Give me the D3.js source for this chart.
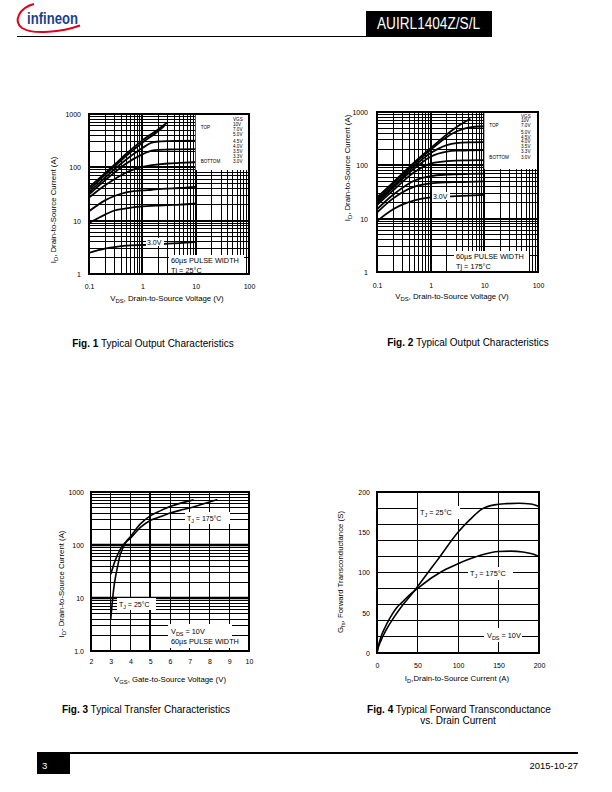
<!DOCTYPE html>
<html><head><meta charset="utf-8">
<script src="https://cdnjs.cloudflare.com/ajax/libs/d3/7.8.5/d3.min.js"></script>
<style>body{margin:0;background:#fff}svg{display:block}</style>
</head><body>
<svg id="page" width="612" height="792"></svg>
<script>
// ---------------- DATA ----------------
// Fig.1  Typical Output Characteristics, Tj = 25°C
const fig1Vgs = ["10V","7.0V","5.0V","4.5V","4.0V","3.5V","3.3V","3.0V"];
const fig1Vds10 = [0.1,0.2,0.3,0.5,1,2,3];
const fig1Id10V = [42,78,112,180,320,520,700];
const fig1Vds7 = [0.1,0.2,0.3,0.5,1,2,2.6];
const fig1Id7V = [38,72,104,165,290,480,600];
const fig1VdsSat = [0.1,0.2,0.3,0.5,1,1.5,2,3,5,10];
const fig1Id5V  = [34,64,92,140,230,290,305,310,312,315];
const fig1Id45V = [31,57,80,118,175,205,213,216,218,220];
const fig1Id4V  = [27,46,60,80,102,110,114,118,121,125];
const fig1Id35V = [15,24,29,34,37,38,39,40,41,43];
const fig1Id33V = [9,13,15.5,17,18.5,19,19.2,19.6,20,21];
const fig1Id3V  = [2.5,3.0,3.2,3.4,3.5,3.55,3.6,3.7,3.8,4.0];

// Fig.2  Typical Output Characteristics, Tj = 175°C
const fig2Vds10 = [0.1,0.2,0.5,1,2,3,5.5];
const fig2Id10V = [25,48,115,210,380,520,750];
const fig2VdsSat = [0.1,0.2,0.5,1,2,3,5,10];
const fig2Id7V  = [23,45,108,195,340,430,510,540];
const fig2Id5V  = [21,41,98,170,240,262,270,272];
const fig2Id45V = [19.5,38,88,145,180,188,190,192];
const fig2Id4V  = [18,34,75,108,120,123,124,125];
const fig2Id35V = [15,28,52,63,67,68,69,70];
const fig2Id33V = [13,24,40,46,48,48.5,49,50];
const fig2Id3V  = [9,15,22,25,26,26.5,27,28];

// log-log tick labels
const vdsTickVals = [0.1,1,10,100];
const vdsTickLabels = ["0.1","1","10","100"];
const idTickVals = [1,10,100,1000];
const idTickLabels = ["1","10","100","1000"];

// Fig.3  Typical Transfer Characteristics
const fig3Vgs25  = [3.0,3.05,3.1,3.16,3.25,3.35,3.46,3.6,3.8,4.0,4.5,5.0,5.5,6.0,6.5,7.2];
const fig3Id25   = [4,6.5,10,16,26,40,62,85,118,145,250,355,440,530,610,710];
const fig3Vgs175 = [3.0,3.2,3.46,3.7,4.0,4.5,5.0,5.5,6.0,6.5,7.0,7.5,8.0,8.4];
const fig3Id175  = [28,48,80,108,135,215,290,340,400,450,500,570,650,720];
const fig3XTicks = [2,3,4,5,6,7,8,9,10];
const fig3XLabels = ["2","3","4","5","6","7","8","9","10"];
const fig3YTickLabels = ["1.0","10","100","1000"];

// Fig.4  Typical Forward Transconductance vs. Drain Current
const fig4Id25  = [0,1,3,6,11.5,20,32,44.5,60,75,100,115,130,145,160,175,190,200];
const fig4Gfs25 = [0,5,11,18,29,43,60,75,96,116,150,166,179,184,185.5,186,185,182];
const fig4Id175  = [0,1,2.5,6,10,15.7,24,32,40,53,70,85,100,115,130,150,165,180,190,200];
const fig4Gfs175 = [0,6,12,23,32,43,56,64,72,82.5,95,104,111,117,122,126,126.5,125.5,123.5,120];
const fig4Ticks = [0,50,100,150,200];
const fig4TickLabels = ["0","50","100","150","200"];

// ---------------- DRAW ----------------
const FONT = "'Liberation Sans', Arial, Helvetica, sans-serif";
const TITLE = 7.8;
const svg = d3.select("#page");
svg.append("rect").attr("width",612).attr("height",792).attr("fill","#fff");

// Header
const logo = svg.append("g");
logo.append("path").attr("d","M34,4 C19,8 13,21 22,28 C33,35 62,32 80,25.5")
  .attr("fill","none").attr("stroke","#e2001a").attr("stroke-width",2);
logo.append("text").attr("x",27).attr("y",23.5).attr("font-family","'Liberation Sans Narrow','Liberation Sans',Arial,sans-serif")
  .attr("font-weight","bold").attr("font-size",17).attr("fill","#1b3f8f").attr("textLength",51).attr("lengthAdjust","spacingAndGlyphs")
  .text("infineon");
svg.append("rect").attr("x",366).attr("y",11).attr("width",126).attr("height",25).attr("fill","#000");
svg.append("text").attr("x",377).attr("y",29).attr("font-family",FONT).attr("font-size",16).attr("fill","#fff")
  .attr("textLength",103).attr("lengthAdjust","spacingAndGlyphs").text("AUIRL1404Z/S/L");
svg.append("line").attr("x1",17).attr("x2",492).attr("y1",36.5).attr("y2",36.5).attr("stroke","#000").attr("stroke-width",1);

// Footer
svg.append("line").attr("x1",37).attr("x2",578).attr("y1",753).attr("y2",753).attr("stroke","#000").attr("stroke-width",2);
svg.append("rect").attr("x",37).attr("y",753).attr("width",33).attr("height",21).attr("fill","#000");
svg.append("text").attr("x",42).attr("y",769).attr("font-family",FONT).attr("font-size",9.5).attr("fill","#fff").text("3");
svg.append("text").attr("x",578).attr("y",769).attr("text-anchor","end").attr("font-family",FONT).attr("font-size",9.5).attr("fill","#000").text("2015-10-27");

function caption(cx, y, bold, rest) {
  const t = svg.append("text").attr("x",cx).attr("y",y).attr("text-anchor","middle")
    .attr("font-family",FONT).attr("font-size",10).attr("fill","#000");
  if (bold) t.append("tspan").attr("font-weight","bold").text(bold);
  t.append("tspan").text(rest);
}
caption(153,347,"Fig. 1"," Typical Output Characteristics");
caption(468,346,"Fig. 2"," Typical Output Characteristics");
caption(146,713,"Fig. 3"," Typical Transfer Characteristics");
caption(459,713,"Fig. 4"," Typical Forward Transconductance");
caption(458,724,null,"vs. Drain Current");

const isMajor = v => Math.abs(Math.log10(v) - Math.round(Math.log10(v))) < 1e-6;
const crisp = (p, w) => (w % 2 === 1) ? Math.round(p - 0.5) + 0.5 : Math.round(p);

function gridLines(g, vals, scale, orient, x0, x1, y0, y1, widthFn) {
  vals.forEach(v => {
    const w = widthFn(v);
    if (w <= 0) return;
    const p = crisp(scale(v), w);
    if (orient === "v") g.append("line").attr("x1",p).attr("x2",p).attr("y1",y0).attr("y2",y1).attr("stroke","#000").attr("stroke-width",w);
    else g.append("line").attr("x1",x0).attr("x2",x1).attr("y1",p).attr("y2",p).attr("stroke","#000").attr("stroke-width",w);
  });
}

function axes(g, x, y, xVals, xLabels, yVals, yLabels, xBase, yRight) {
  const ax = g.append("g").attr("transform",`translate(0,${xBase})`)
    .call(d3.axisBottom(x).tickValues(xVals).tickFormat((d,i)=>xLabels[i]).tickSize(0).tickPadding(0));
  ax.select(".domain").remove();
  ax.selectAll("text").attr("y",0).attr("dy",0).attr("font-family",FONT).attr("font-size",7).attr("fill","#000");
  const ay = g.append("g").attr("transform",`translate(${yRight},0)`)
    .call(d3.axisLeft(y).tickValues(yVals).tickFormat((d,i)=>yLabels[i]).tickSize(0).tickPadding(0));
  ay.select(".domain").remove();
  ay.selectAll("text").attr("x",0).attr("dy","0.35em").attr("font-family",FONT).attr("font-size",7).attr("fill","#000");
}

function labelBox(g, x, y, w, h) {
  g.append("rect").attr("x",x).attr("y",y).attr("width",w).attr("height",h).attr("fill","#fff");
}
function subText(g, x, y, main, sub, rest, size, anchor) {
  const t = g.append("text").attr("x",x).attr("y",y).attr("font-family",FONT).attr("font-size",size||7).attr("fill","#000")
    .attr("text-anchor",anchor||"start");
  t.append("tspan").text(main);
  if (sub) t.append("tspan").attr("font-size",(size||7)*0.75).attr("dy",2).text(sub);
  if (rest) t.append("tspan").attr("dy",sub?-2:0).text(rest);
  return t;
}
function rotLabel(g, cx, cy, main, sub, rest) {
  const gg = g.append("g").attr("transform",`translate(${cx},${cy}) rotate(-90)`);
  subText(gg, 0, 0, main, sub, rest, TITLE, "middle");
}

function pairs(xs, ys) { return xs.map((v,i)=>[v, ys[i]]); }

// ---------- Log-log output characteristics ----------
function outputChart(o) {
  const g = svg.append("g");
  const x = d3.scaleLog().domain([0.1,100]).range([o.x0,o.x1]);
  const y = d3.scaleLog().domain([1,1000]).range([o.y1,o.y0]);
  gridLines(g, x.ticks(), x, "v", o.x0, o.x1, o.y0, o.y1, v => isMajor(v) ? 2 : 1);
  gridLines(g, y.ticks(), y, "h", o.x0, o.x1, o.y0, o.y1, v => isMajor(v) ? 2 : 1);
  const line = d3.line().x(d=>x(d[0])).y(d=>y(d[1])).curve(d3.curveMonotoneX);
  o.series.forEach(s => g.append("path").attr("d",line(s)).attr("fill","none").attr("stroke","#000").attr("stroke-width",1.8));
  // 3.0V label
  labelBox(g, o.lbl3[0]-1, o.lbl3[1]-6, 18, 8);
  g.append("text").attr("x",o.lbl3[0]).attr("y",o.lbl3[1]+1).attr("font-family",FONT).attr("font-size",7).text("3.0V");
  // pulse label
  labelBox(g, o.pulse[0]-2, o.pulse[1]-8, 75, 20);
  g.append("text").attr("x",o.pulse[0]).attr("y",o.pulse[1]).attr("font-family",FONT).attr("font-size",7.3).text("60µs PULSE WIDTH");
  g.append("text").attr("x",o.pulse[0]).attr("y",o.pulse[1]+9.5).attr("font-family",FONT).attr("font-size",7.3).text(o.tj);
  // legend
  const lx = x(10);
  g.append("rect").attr("x",lx).attr("y",o.y0).attr("width",o.x1-lx).attr("height",o.legH).attr("fill","#fff");
  const lg = g.append("g").attr("font-family",FONT).attr("font-size",4.6).attr("fill","#000");
  lg.append("text").attr("x",o.vx).attr("y",o.ly[0]).text("VGS");
  fig1Vgs.forEach((t,i)=> lg.append("text").attr("x",o.vx).attr("y",o.ly[i+1]).text(t));
  lg.append("text").attr("x",lx+5).attr("y",o.topY).text("TOP");
  lg.append("text").attr("x",lx+5).attr("y",o.ly[8]).text("BOTTOM");
  // frame
  g.append("rect").attr("x",o.x0).attr("y",o.y0).attr("width",o.x1-o.x0).attr("height",o.y1-o.y0)
    .attr("fill","none").attr("stroke","#000").attr("stroke-width",2);
  axes(g, x, y, vdsTickVals, vdsTickLabels, idTickVals, idTickLabels, o.xBase, o.yRight);
  subText(g, o.xlab[0], o.xlab[1], "V", "DS", ", Drain-to-Source Voltage (V)", TITLE, "middle");
  rotLabel(g, o.ylab[0], o.ylab[1], "I", "D", ", Drain-to-Source Current (A)");
}

outputChart({
  x0:89, x1:249, y0:114, y1:274,
  series:[pairs(fig1Vds10,fig1Id10V), pairs(fig1Vds7,fig1Id7V), pairs(fig1VdsSat,fig1Id5V), pairs(fig1VdsSat,fig1Id45V),
          pairs(fig1VdsSat,fig1Id4V), pairs(fig1VdsSat,fig1Id35V), pairs(fig1VdsSat,fig1Id33V), pairs(fig1VdsSat,fig1Id3V)],
  lbl3:[147,244], pulse:[171,263], tj:"Tj = 25°C",
  legH:56, vx:233, ly:[121,126,131,136,143,148,153,158,163], topY:128.5,
  xBase:289, yRight:81, xlab:[167,301], ylab:[56,210]
});
outputChart({
  x0:377, x1:538, y0:112, y1:272,
  series:[pairs(fig2Vds10,fig2Id10V), pairs(fig2VdsSat,fig2Id7V), pairs(fig2VdsSat,fig2Id5V), pairs(fig2VdsSat,fig2Id45V),
          pairs(fig2VdsSat,fig2Id4V), pairs(fig2VdsSat,fig2Id35V), pairs(fig2VdsSat,fig2Id33V), pairs(fig2VdsSat,fig2Id3V)],
  lbl3:[433,198], pulse:[456,259], tj:"Tj = 175°C",
  legH:57, vx:521, ly:[118,122,127,134,138.5,143,148,153,159], topY:127,
  xBase:288, yRight:368, xlab:[452,299], ylab:[350,168]
});

// ---------- Fig.3 ----------
(function(){
  const x0=91, x1=249, y0=492, y1=651;
  const g = svg.append("g");
  const x = d3.scaleLinear().domain([2,10]).range([x0,x1]);
  const y = d3.scaleLog().domain([1,1000]).range([y1,y0]);
  gridLines(g, x.ticks(8), x, "v", x0, x1, y0, y1, v => v===5 ? 2 : 1);
  gridLines(g, y.ticks(), y, "h", x0, x1, y0, y1, v => (v===10||v===100) ? 2.5 : 1);
  const line = d3.line().x(d=>x(d[0])).y(d=>y(d[1])).curve(d3.curveMonotoneX);
  [pairs(fig3Vgs25,fig3Id25), pairs(fig3Vgs175,fig3Id175)].forEach(s =>
    g.append("path").attr("d",line(s)).attr("fill","none").attr("stroke","#000").attr("stroke-width",1.6));
  labelBox(g, 185, 512, 45, 12);
  subText(g, 187, 521, "T", "J", " = 175°C", 7);
  labelBox(g, 117, 598, 39, 12);
  subText(g, 119, 607, "T", "J", " = 25°C", 7);
  labelBox(g, 168, 624, 64, 24);
  subText(g, 171, 634, "V", "DS", " = 10V", 7.3);
  g.append("text").attr("x",171).attr("y",644).attr("font-family",FONT).attr("font-size",7.3).text("60µs PULSE WIDTH");
  g.append("rect").attr("x",x0).attr("y",y0).attr("width",x1-x0).attr("height",y1-y0).attr("fill","none").attr("stroke","#000").attr("stroke-width",2);
  axes(g, x, y, fig3XTicks, fig3XLabels, idTickVals, fig3YTickLabels, 664, 84);
  subText(g, 170, 682, "V", "GS", ", Gate-to-Source Voltage (V)", TITLE, "middle");
  rotLabel(g, 64, 584, "I", "D", "- Drain-to-Source Current  (A)");
})();

// ---------- Fig.4 ----------
(function(){
  const x0=377, x1=539, y0=492, y1=653;
  const g = svg.append("g");
  const x = d3.scaleLinear().domain([0,200]).range([x0,x1]);
  const y = d3.scaleLinear().domain([0,200]).range([y1,y0]);
  gridLines(g, x.ticks(4), x, "v", x0, x1, y0, y1, v => 1);
  gridLines(g, y.ticks(8), y, "h", x0, x1, y0, y1, v => v===150 ? 2 : 1);
  const line = d3.line().x(d=>x(d[0])).y(d=>y(d[1])).curve(d3.curveMonotoneX);
  [pairs(fig4Id25,fig4Gfs25), pairs(fig4Id175,fig4Gfs175)].forEach(s =>
    g.append("path").attr("d",line(s)).attr("fill","none").attr("stroke","#000").attr("stroke-width",1.6));
  labelBox(g, 418, 506, 42, 13);
  subText(g, 420, 515, "T", "J", " = 25°C", 7.3);
  labelBox(g, 468, 567, 45, 13);
  subText(g, 470, 576, "T", "J", " = 175°C", 7.3);
  labelBox(g, 484, 628, 38, 14);
  subText(g, 487, 638, "V", "DS", " = 10V", 7.3);
  g.append("rect").attr("x",x0).attr("y",y0).attr("width",x1-x0).attr("height",y1-y0).attr("fill","none").attr("stroke","#000").attr("stroke-width",2);
  axes(g, x, y, fig4Ticks, fig4TickLabels, fig4Ticks, fig4TickLabels, 668, 370);
  subText(g, 457, 681, "I", "D", ",Drain-to-Source Current (A)", TITLE, "middle");
  rotLabel(g, 343, 572, "G", "fs", ", Forward Transconductance (S)");
})();
</script>
</body></html>
